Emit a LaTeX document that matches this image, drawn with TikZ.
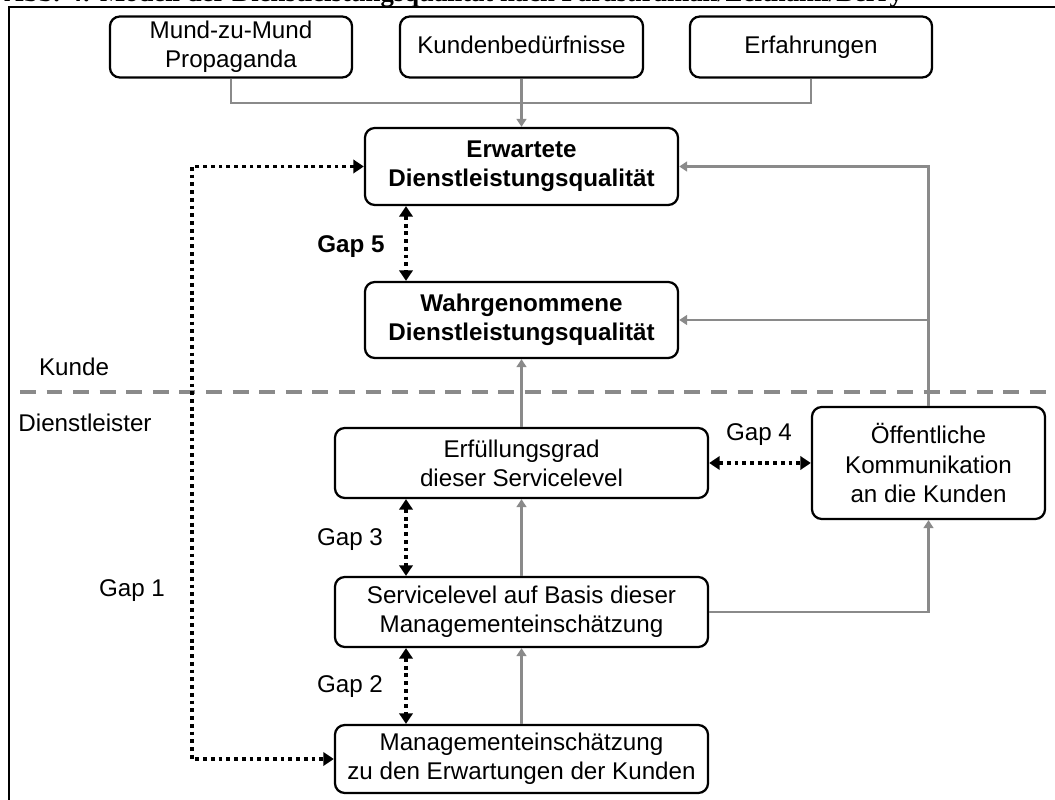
\documentclass[tikz,border=0pt]{standalone}
\usepackage{fontspec}
\setmainfont{Liberation Sans}
\newfontfamily\titlefont{Liberation Serif}
\usetikzlibrary{arrows.meta}
\definecolor{linegray}{RGB}{138,138,138}

\begin{document}
\begin{tikzpicture}[x=0.025cm,y=-0.025cm]
	\tikzset{box/.style={draw=black, line width=1.6pt, rounded corners=7pt, align=center, inner sep=0pt, font=\fontsize{17.2}{20.8}\selectfont},
		oneline/.style={text height=12.5pt, text depth=3.6pt},
		grayline/.style={draw=linegray, line width=2pt},
		grayarrow/.style={grayline, -{Triangle[length=5.7pt,width=7pt]}},
		gaparrow/.style={black, line width=2.7pt, dash pattern=on 2.7pt off 2.8pt, {Triangle[length=7.5pt,width=9.5pt]}-{Triangle[length=7.5pt,width=9.5pt]}},
		gaplabel/.style={font=\fontsize{17.2}{20.8}\selectfont}};
	\useasboundingbox (0,0) rectangle (1055,800);

	% frame and title
	\draw[black, line width=1pt] (9,800) -- (9,7) -- (1055,7);
	\node[anchor=base west, inner sep=0pt, font=\titlefont\bfseries\fontsize{19}{22}\selectfont] (T) at (4,2) {Abb. 4: Modell der Dienstleistungsqualität nach Parasuraman/Zeithaml/Berry};

	% customer side
	\node[box, minimum width=6.05cm, minimum height=1.525cm] (MM) at (231,47) {Mund-zu-Mund\\Propaganda};
	\node[box, oneline, minimum width=6.075cm, minimum height=1.525cm] (KB) at (521.5,47) {Kundenbedürfnisse};
	\node[box, oneline, minimum width=6.05cm, minimum height=1.525cm] (EF) at (811,47) {Erfahrungen};
	\node[box, minimum width=7.825cm, minimum height=1.925cm, font=\bfseries\fontsize{17.2}{20.8}\selectfont] (ER) at (521.5,166.5) {Erwartete\\Dienstleistungsqualität};
	\node[box, minimum width=7.825cm, minimum height=1.9cm, font=\bfseries\fontsize{17.2}{20.8}\selectfont] (WA) at (521.5,320) {Wahrgenommene\\Dienstleistungsqualität};

	% provider side
	\node[box, minimum width=9.325cm, minimum height=1.75cm] (EG) at (521.5,463) {Erfüllungsgrad\\dieser Servicelevel};
	\node[box, minimum width=9.325cm, minimum height=1.75cm] (SL) at (521.5,612) {Servicelevel auf Basis dieser\\Managementeinschätzung};
	\node[box, minimum width=9.325cm, minimum height=1.7cm] (ME) at (521.5,759) {Managementeinschätzung\\zu den Erwartungen der Kunden};
	\node[box, minimum width=5.825cm, minimum height=2.8cm] (OK) at (928.5,463) {Öffentliche\\Kommunikation\\an die Kunden};

	% separator
	\draw[linegray, line width=2.2pt, dash pattern=on 11.3pt off 7.6pt] (20,392) -- (1055,392);
	\node[gaplabel] (KU) at (74,367) {Kunde};
	\node[gaplabel] (DL) at (85,423) {Dienstleister};

	% gray connectors
	\coordinate (J) at (521.5,103);
	\draw[grayline] (MM.south) |- (J) -| (EF.south);
	\draw[grayarrow] (KB.south) -- (ER.north);
	\draw[grayarrow] (OK.north) |- (ER.east);
	\draw[grayarrow] (OK.north) |- (WA.east);
	\draw[grayarrow] (EG.north) -- (WA.south);
	\draw[grayarrow] (SL.north) -- (EG.south);
	\draw[grayarrow] (ME.north) -- (SL.south);
	\draw[grayarrow] (SL.east) -| (OK.south);

	% gaps
	\coordinate (G) at (406,0);
	\coordinate (G1) at (192,460);
	\draw[gaparrow] (ER.south -| G) -- (WA.north -| G);
	\draw[gaparrow] (EG.south -| G) -- (SL.north -| G);
	\draw[gaparrow] (SL.south -| G) -- (ME.north -| G);
	\draw[gaparrow] (EG.east) -- (OK.west);
	\draw[gaparrow] (ER.west) -| (G1) |- (ME.west);
	\node[gaplabel, font=\bfseries\fontsize{17.2}{20.8}\selectfont] (L5) at (351,247) {Gap 5};
	\node[gaplabel] (L4) at (759,435) {Gap 4};
	\node[gaplabel] (L3) at (350,540) {Gap 3};
	\node[gaplabel] (L2) at (350,687) {Gap 2};
	\node[gaplabel] (L1) at (132,591) {Gap 1};
\end{tikzpicture}
\end{document}
